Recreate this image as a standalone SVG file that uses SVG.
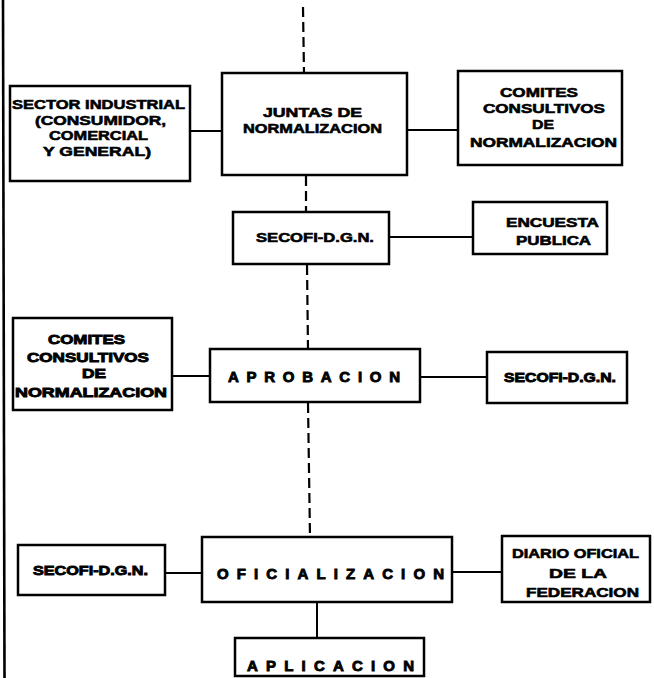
<svg xmlns="http://www.w3.org/2000/svg" width="654" height="678" viewBox="0 0 654 678">
<style>
  .box { fill: #ffffff; stroke: #000000; stroke-width: 2.5; }
  .conn { stroke: #000000; stroke-width: 2; fill: none; }
  .dash { stroke: #000000; stroke-width: 2.2; fill: none; stroke-dasharray: 10 5; }
  text { font-family: "Liberation Sans", Arial, sans-serif; font-weight: bold; fill: #000000; stroke: #000000; stroke-width: 0.6; text-anchor: start; }
  .t { font-size: 13.5px; }
  .h { stroke-width: 0.9; }
  .s { font-size: 15px; stroke-width: 0.9; }
</style>
<rect width="654" height="678" fill="#ffffff"/>
<g id="connectors">
  <line class="conn" x1="3" y1="0" x2="4.5" y2="678" style="stroke-width:2.6"/>
  <line class="dash" x1="303" y1="7" x2="304" y2="73"/>
  <line class="dash" x1="306" y1="176" x2="306" y2="212"/>
  <line class="dash" x1="307" y1="265" x2="308" y2="349"/>
  <line class="dash" x1="308" y1="403" x2="310" y2="537"/>
  <line class="conn" x1="190" y1="131" x2="222" y2="131"/>
  <line class="conn" x1="407" y1="130" x2="458" y2="130"/>
  <line class="conn" x1="389" y1="237" x2="473" y2="237"/>
  <line class="conn" x1="172" y1="376" x2="210" y2="376"/>
  <line class="conn" x1="420" y1="377" x2="487" y2="377"/>
  <line class="conn" x1="165" y1="573" x2="202" y2="573"/>
  <line class="conn" x1="452" y1="572" x2="502" y2="572"/>
  <line class="conn" x1="317" y1="602" x2="317" y2="638"/>
</g>
<g id="sector">
  <rect class="box" x="10" y="86" width="180" height="95"/>
  <text class="t" x="12" y="109" textLength="173" lengthAdjust="spacingAndGlyphs">SECTOR INDUSTRIAL</text>
  <text class="t" x="35" y="124.5" textLength="131" lengthAdjust="spacingAndGlyphs">(CONSUMIDOR,</text>
  <text class="t" x="49" y="140" textLength="99" lengthAdjust="spacingAndGlyphs">COMERCIAL</text>
  <text class="t" x="43" y="155.5" textLength="108" lengthAdjust="spacingAndGlyphs">Y GENERAL)</text>
</g>
<g id="juntas">
  <rect class="box" x="222" y="73" width="185" height="102"/>
  <text class="t" x="263" y="117" textLength="99" lengthAdjust="spacingAndGlyphs">JUNTAS DE</text>
  <text class="t" x="243" y="133" textLength="139" lengthAdjust="spacingAndGlyphs">NORMALIZACION</text>
</g>
<g id="comites1">
  <rect class="box" x="458" y="71" width="164" height="94"/>
  <text class="t" x="500" y="97" textLength="78" lengthAdjust="spacingAndGlyphs">COMITES</text>
  <text class="t" x="483" y="112.5" textLength="122" lengthAdjust="spacingAndGlyphs">CONSULTIVOS</text>
  <text class="t" x="532" y="128.5" textLength="22" lengthAdjust="spacingAndGlyphs">DE</text>
  <text class="t" x="470" y="147" textLength="147" lengthAdjust="spacingAndGlyphs">NORMALIZACION</text>
</g>
<g id="secofi1">
  <rect class="box" x="233" y="212" width="156" height="52"/>
  <text class="t" x="256" y="242" textLength="118" lengthAdjust="spacingAndGlyphs">SECOFI-D.G.N.</text>
</g>
<g id="encuesta">
  <rect class="box" x="473" y="202" width="134" height="52"/>
  <text class="t" x="506" y="227" textLength="93" lengthAdjust="spacingAndGlyphs">ENCUESTA</text>
  <text class="t" x="516" y="245" textLength="75" lengthAdjust="spacingAndGlyphs">PUBLICA</text>
</g>
<g id="comites2">
  <rect class="box" x="13" y="318" width="159" height="92"/>
  <text class="t h" x="48" y="344" textLength="77" lengthAdjust="spacingAndGlyphs">COMITES</text>
  <text class="t h" x="27" y="361.5" textLength="122" lengthAdjust="spacingAndGlyphs">CONSULTIVOS</text>
  <text class="t h" x="82" y="378" textLength="24" lengthAdjust="spacingAndGlyphs">DE</text>
  <text class="t h" x="15" y="396.5" textLength="152" lengthAdjust="spacingAndGlyphs">NORMALIZACION</text>
</g>
<g id="aprobacion">
  <rect class="box" x="210" y="349" width="210" height="53"/>
  <text class="s" x="228" y="381.5" textLength="172" lengthAdjust="spacing">APROBACION</text>
</g>
<g id="secofi2">
  <rect class="box" x="487" y="352" width="140" height="51"/>
  <text class="t h" x="504" y="381.5" textLength="112" lengthAdjust="spacingAndGlyphs">SECOFI-D.G.N.</text>
</g>
<g id="secofi3">
  <rect class="box" x="18" y="545" width="147" height="50"/>
  <text class="t h" x="33" y="575" textLength="115" lengthAdjust="spacingAndGlyphs">SECOFI-D.G.N.</text>
</g>
<g id="oficializacion">
  <rect class="box" x="202" y="537" width="250" height="65"/>
  <text class="s" x="217" y="578.5" textLength="227" lengthAdjust="spacing">OFICIALIZACION</text>
</g>
<g id="diario">
  <rect class="box" x="502" y="536" width="148" height="66"/>
  <text class="t" x="512" y="558" textLength="127" lengthAdjust="spacingAndGlyphs">DIARIO OFICIAL</text>
  <text class="t" x="549" y="578" textLength="58" lengthAdjust="spacingAndGlyphs">DE LA</text>
  <text class="t" x="526" y="597" textLength="113" lengthAdjust="spacingAndGlyphs">FEDERACION</text>
</g>
<g id="aplicacion">
  <rect class="box" x="235" y="638" width="189" height="38"/>
  <text class="s" x="247" y="670.5" textLength="167" lengthAdjust="spacing">APLICACION</text>
</g>
</svg>
